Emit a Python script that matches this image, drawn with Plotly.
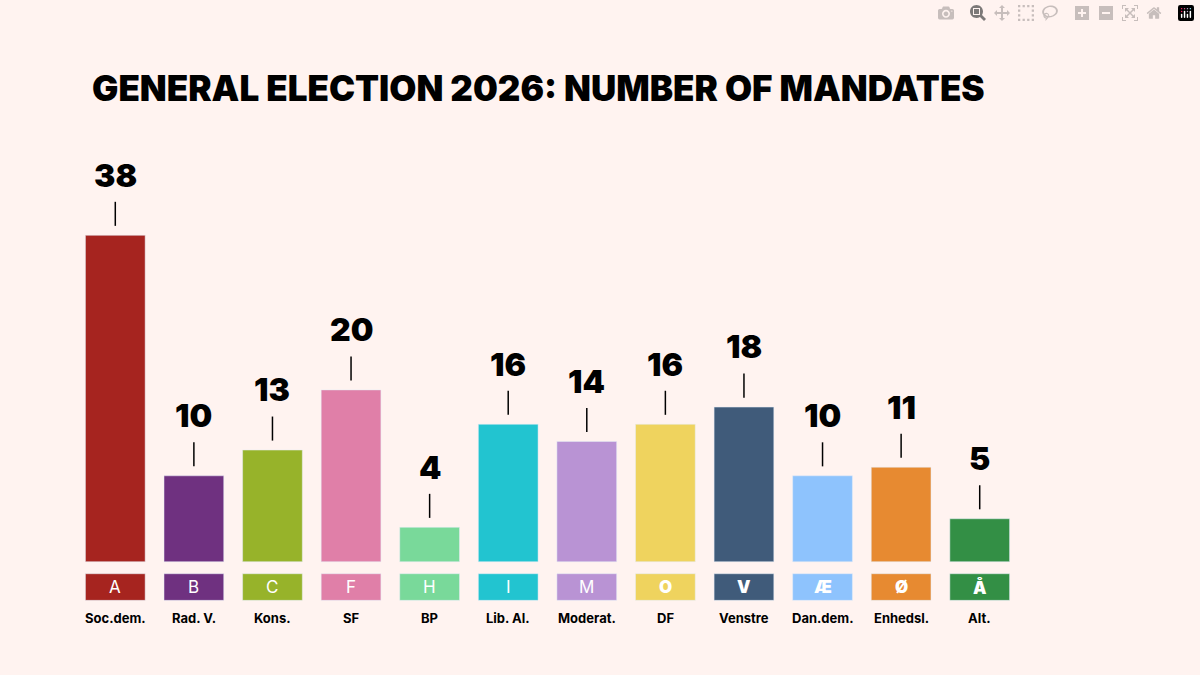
import plotly.graph_objects as go

letters = ["A", "B", "C", "F", "H", "I", "M", "O", "V", "Æ", "Ø", "Å"]
names = ["Soc.dem.", "Rad. V.", "Kons.", "SF", "BP", "Lib. Al.", "Moderat.", "DF",
         "Venstre", "Dan.dem.", "Enhedsl.", "Alt."]
seats = [38, 10, 13, 20, 4, 16, 14, 16, 18, 10, 11, 5]
colors = ["#a6241f", "#6f3180", "#97b32a", "#e07fa8", "#79d99a", "#22c4d0",
          "#b993d4", "#efd35e", "#405b7a", "#8ec3fd", "#e78a31", "#338f45"]
bold_letter = [False] * 7 + [True] * 5

bg = "#fff3f0"
x = list(range(len(seats)))

fig = go.Figure()
fig.add_bar(x=x, y=seats, marker_color=colors, width=0.76, hoverinfo="skip")
# letter boxes below the baseline
fig.add_bar(x=x, y=[3.1] * len(x), base=-4.5, marker_color=colors, width=0.76,
            hoverinfo="skip")

# tick lines above bars
lx, ly = [], []
for i, s in enumerate(seats):
    lx += [i, i, None]
    ly += [s + 1.1, s + 3.9, None]
fig.add_scatter(x=lx, y=ly, mode="lines", line=dict(color="black", width=1.5),
                hoverinfo="skip")

for i, s in enumerate(seats):
    fig.add_annotation(x=i, y=s + 7, text=str(s), showarrow=False,
                       font=dict(family="Inter", size=32, color="black", weight=900))
    fig.add_annotation(x=i, y=-2.95, text=letters[i], showarrow=False,
                       font=dict(family="Inter", size=17, color="white",
                                 weight=900 if bold_letter[i] else 400))
    fig.add_annotation(x=i, y=-6.5, text=names[i], showarrow=False,
                       font=dict(family="Inter", size=13, color="black", weight=700))

fig.add_annotation(xref="paper", yref="paper", x=0.015, y=1.145, xanchor="left",
                   yanchor="middle", showarrow=False,
                   text="GENERAL ELECTION 2026: NUMBER OF MANDATES",
                   font=dict(family="Inter", size=35, color="black", weight=900))

fig.update_layout(
    width=1200, height=675, showlegend=False, barmode="overlay",
    paper_bgcolor=bg, plot_bgcolor=bg,
    margin=dict(l=76, r=181, t=158, b=36),
    xaxis=dict(range=[-0.5, 11.5], visible=False),
    yaxis=dict(range=[-9, 47], visible=False),
)
fig.write_html("out.html", post_script="document.body.style.margin='0';")
